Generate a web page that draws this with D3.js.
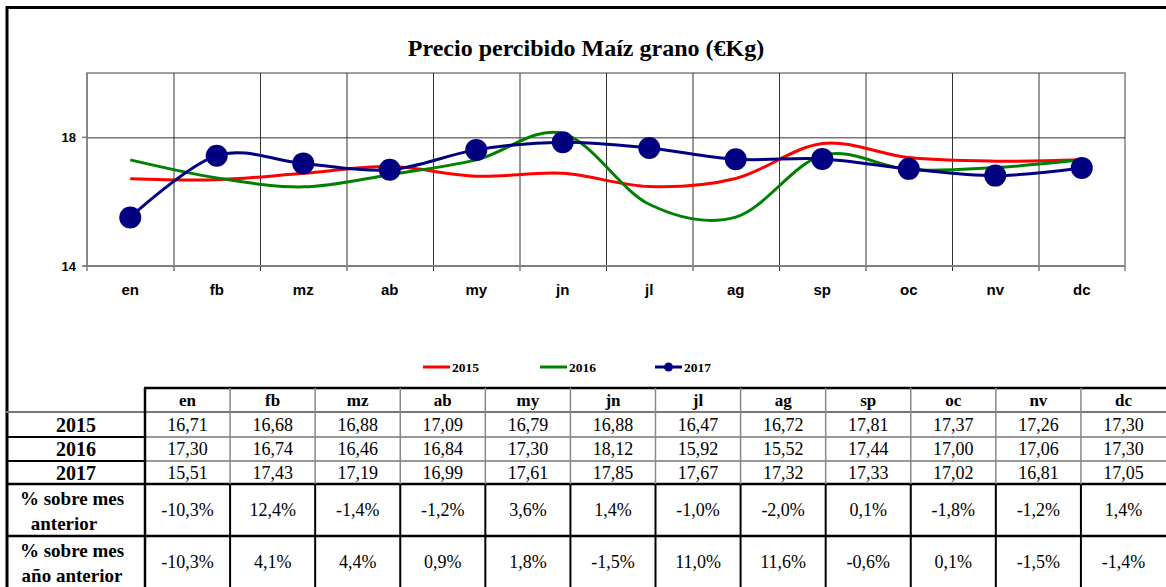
<!DOCTYPE html>
<html>
<head>
<meta charset="utf-8">
<script src="https://cdn.jsdelivr.net/npm/d3@7"></script>
<style>
  body { margin: 0; background: #fff; }
  svg { display: block; }
</style>
</head>
<body>
<div id="chart"></div>
<script>
// Precio percibido Maiz grano - data
const months = ["en", "fb", "mz", "ab", "my", "jn", "jl", "ag", "sp", "oc", "nv", "dc"];
const y2015 = [16.71, 16.68, 16.88, 17.09, 16.79, 16.88, 16.47, 16.72, 17.81, 17.37, 17.26, 17.30];
const y2016 = [17.30, 16.74, 16.46, 16.84, 17.30, 18.12, 15.92, 15.52, 17.44, 17.00, 17.06, 17.30];
const y2017 = [15.51, 17.43, 17.19, 16.99, 17.61, 17.85, 17.67, 17.32, 17.33, 17.02, 16.81, 17.05];
const pctMes = ["-10,3%", "12,4%", "-1,4%", "-1,2%", "3,6%", "1,4%", "-1,0%", "-2,0%", "0,1%", "-1,8%", "-1,2%", "1,4%"];
const pctAnio = ["-10,3%", "4,1%", "4,4%", "0,9%", "1,8%", "-1,5%", "11,0%", "11,6%", "-0,6%", "0,1%", "-1,5%", "-1,4%"];
const yTicks = [14, 18];

const width = 1166;
const height = 587;

const svg = d3.select("#chart")
    .append("svg")
    .attr("width", width)
    .attr("height", height);

// outer frame
svg.append("line").attr("x1", 7).attr("x2", 7).attr("y1", 6).attr("y2", height)
    .attr("stroke", "#000").attr("stroke-width", 3);
svg.append("line").attr("x1", 6).attr("x2", width).attr("y1", 7.5).attr("y2", 7.5)
    .attr("stroke", "#000").attr("stroke-width", 3);

// title
svg.append("text")
    .attr("x", 586).attr("y", 56)
    .attr("text-anchor", "middle")
    .style("font-family", "'Liberation Serif', 'Times New Roman', serif")
    .style("font-weight", "bold")
    .style("font-size", "24px")
    .text("Precio percibido Maíz grano (€Kg)");

// scales
const x = d3.scaleBand().domain(months).range([87, 1125]).padding(0);
const y = d3.scaleLinear().domain([14, 20]).range([266, 73]);
const cx = m => x(m) + x.bandwidth() / 2;

const plot = svg.append("g");

// plot border (top/right) in gray
plot.append("rect")
    .attr("x", 87).attr("y", y(20))
    .attr("width", 1125 - 87).attr("height", y(14) - y(20))
    .attr("fill", "none").attr("stroke", "#808080").attr("stroke-width", 1.5);

// vertical gridlines at category boundaries
plot.selectAll("line.vgrid")
    .data(months.slice(1))
    .enter().append("line")
    .attr("class", "vgrid")
    .attr("x1", d => x(d) + 0.5).attr("x2", d => x(d) + 0.5)
    .attr("y1", y(20)).attr("y2", y(14) + 5)
    .attr("stroke", "#333").attr("stroke-width", 1);

// horizontal gridline at 18
plot.append("line")
    .attr("x1", 87).attr("x2", 1125)
    .attr("y1", y(18) + 0.5).attr("y2", y(18) + 0.5)
    .attr("stroke", "#333");

// x axis line
plot.append("line")
    .attr("x1", 83).attr("x2", 1125)
    .attr("y1", y(14)).attr("y2", y(14))
    .attr("stroke", "#808080").attr("stroke-width", 2);
// left axis line
plot.append("line")
    .attr("x1", 87).attr("x2", 87)
    .attr("y1", y(20)).attr("y2", y(14) + 5)
    .attr("stroke", "#808080").attr("stroke-width", 1.5);
plot.append("line")
    .attr("x1", 1125).attr("x2", 1125)
    .attr("y1", y(14)).attr("y2", y(14) + 5)
    .attr("stroke", "#808080").attr("stroke-width", 1.5);

// y ticks
plot.selectAll("line.ytick")
    .data(yTicks)
    .enter().append("line")
    .attr("x1", 82).attr("x2", 87)
    .attr("y1", d => y(d)).attr("y2", d => y(d))
    .attr("stroke", "#808080").attr("stroke-width", 1.5);
plot.selectAll("text.ylab")
    .data(yTicks)
    .enter().append("text")
    .attr("x", 76).attr("y", d => y(d) + 4.5)
    .attr("text-anchor", "end")
    .style("font-family", "'Liberation Sans', Arial, sans-serif")
    .style("font-weight", "bold")
    .style("font-size", "13px")
    .text(d => d);

// x labels
plot.selectAll("text.xlab")
    .data(months)
    .enter().append("text")
    .attr("x", d => cx(d)).attr("y", 295)
    .attr("text-anchor", "middle")
    .style("font-family", "'Liberation Sans', Arial, sans-serif")
    .style("font-weight", "bold")
    .style("font-size", "15px")
    .text(d => d);

// lines
const line = d3.line()
    .x((d, i) => cx(months[i]))
    .y(d => y(d))
    .curve(d3.curveCardinal.tension(0));

const series = [
    { name: "2015", values: y2015, color: "#FF0000" },
    { name: "2016", values: y2016, color: "#008000" },
    { name: "2017", values: y2017, color: "#000080" }
];

plot.selectAll("path.series")
    .data(series)
    .enter().append("path")
    .attr("d", d => line(d.values))
    .attr("fill", "none")
    .attr("stroke", d => d.color)
    .attr("stroke-width", 3);

plot.selectAll("circle.mk")
    .data(y2017)
    .enter().append("circle")
    .attr("cx", (d, i) => cx(months[i]))
    .attr("cy", d => y(d))
    .attr("r", 11)
    .attr("fill", "#000080");

// legend
const legendX = [423, 540, 655];
const legend = svg.selectAll("g.leg")
    .data(series)
    .enter().append("g")
    .attr("transform", (d, i) => `translate(${legendX[i]},367)`);
legend.append("line")
    .attr("x1", 0).attr("x2", 27)
    .attr("stroke", d => d.color).attr("stroke-width", 3);
legend.filter(d => d.name === "2017").append("circle")
    .attr("cx", 13.5).attr("r", 4.5).attr("fill", "#000080");
legend.append("text")
    .attr("x", 29).attr("y", 5)
    .style("font-family", "'Liberation Serif', 'Times New Roman', serif")
    .style("font-weight", "bold")
    .style("font-size", "13.5px")
    .text(d => d.name);

// table
const tx = d3.scaleBand().domain(months).range([145, 1166]).padding(0);
const rowY = [388, 412, 437, 461, 484, 536, 588];
const serif = "'Liberation Serif', 'Times New Roman', serif";
const table = svg.append("g");

// header
table.selectAll("text.th")
    .data(months)
    .enter().append("text")
    .attr("x", d => tx(d) + tx.bandwidth() / 2)
    .attr("y", 406)
    .attr("text-anchor", "middle")
    .style("font-family", serif)
    .style("font-weight", "bold")
    .style("font-size", "17px")
    .text(d => d);

const rows = [
    { label: ["2015"], values: y2015.map(v => v.toFixed(2).replace(".", ",")) },
    { label: ["2016"], values: y2016.map(v => v.toFixed(2).replace(".", ",")) },
    { label: ["2017"], values: y2017.map(v => v.toFixed(2).replace(".", ",")) },
    { label: ["% sobre mes", "anterior"], values: pctMes },
    { label: ["% sobre mes", "año anterior"], values: pctAnio }
];

rows.forEach((r, ri) => {
    const top = rowY[ri + 1];
    const bot = rowY[ri + 2];
    const mid = (top + bot) / 2;
    if (r.label.length === 1) {
        table.append("text")
            .attr("x", 76).attr("y", mid + 7)
            .attr("text-anchor", "middle")
            .style("font-family", serif)
            .style("font-weight", "bold")
            .style("font-size", "20px")
            .text(r.label[0]);
    } else {
        r.label.forEach((t, li) => {
            table.append("text")
                .attr("x", li === 0 ? 72 : (ri === 3 ? 64 : 72))
                .attr("y", mid - 5 + li * 25)
                .attr("text-anchor", "middle")
                .style("font-family", serif)
                .style("font-weight", "bold")
                .style("font-size", "19px")
                .text(t);
        });
    }
    table.selectAll(null)
        .data(r.values)
        .enter().append("text")
        .attr("x", (d, i) => tx(months[i]) + tx.bandwidth() / 2)
        .attr("y", mid + 6)
        .attr("text-anchor", "middle")
        .style("font-family", serif)
        .style("font-size", "18px")
        .text(d => d);
});

// table borders
table.append("line").attr("x1", 144).attr("x2", width).attr("y1", rowY[0]).attr("y2", rowY[0])
    .attr("stroke", "#000").attr("stroke-width", 2.5);
table.append("line").attr("x1", 6).attr("x2", width).attr("y1", rowY[1]).attr("y2", rowY[1])
    .attr("stroke", "#777").attr("stroke-width", 2);
[2, 3].forEach(k => {
    table.append("line").attr("x1", 6).attr("x2", 145).attr("y1", rowY[k]).attr("y2", rowY[k])
        .attr("stroke", "#000").attr("stroke-width", 2);
    table.append("line").attr("x1", 145).attr("x2", width).attr("y1", rowY[k]).attr("y2", rowY[k])
        .attr("stroke", "#777").attr("stroke-width", 1.5);
});
[4, 5].forEach(k => {
    table.append("line").attr("x1", 6).attr("x2", width).attr("y1", rowY[k]).attr("y2", rowY[k])
        .attr("stroke", "#000").attr("stroke-width", 2.5);
});
// verticals
table.append("line").attr("x1", 145).attr("x2", 145).attr("y1", rowY[0]).attr("y2", height)
    .attr("stroke", "#000").attr("stroke-width", 2.5);
table.selectAll("line.vcol")
    .data(months.slice(1))
    .enter().append("line")
    .attr("x1", d => tx(d)).attr("x2", d => tx(d))
    .attr("y1", rowY[0]).attr("y2", rowY[4])
    .attr("stroke", "#888").attr("stroke-width", 1.5);
table.selectAll("line.vcol2")
    .data(months.slice(1))
    .enter().append("line")
    .attr("x1", d => tx(d)).attr("x2", d => tx(d))
    .attr("y1", rowY[4]).attr("y2", height)
    .attr("stroke", "#000").attr("stroke-width", 2);
</script>
</body>
</html>
